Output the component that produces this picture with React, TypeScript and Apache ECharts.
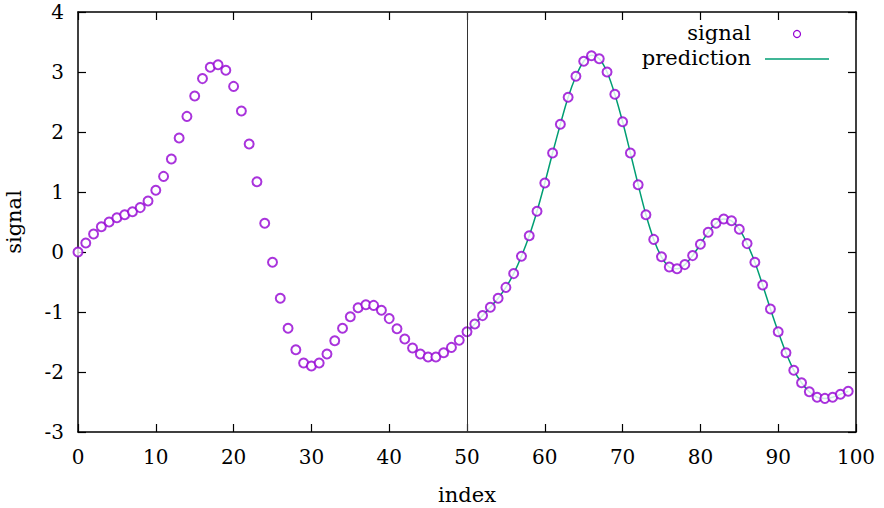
import React, { useEffect, useRef } from "react";
import * as echarts from "echarts";

const signal: number[] = [
  0.0, 0.15, 0.3, 0.42, 0.5, 0.57, 0.62, 0.67, 0.74, 0.85,
  1.03, 1.26, 1.55, 1.9, 2.26, 2.6, 2.89, 3.08, 3.12, 3.03,
  2.76, 2.35, 1.8, 1.17, 0.48, -0.17, -0.77, -1.27, -1.63, -1.85,
  -1.9, -1.85, -1.7, -1.48, -1.27, -1.08, -0.93, -0.88, -0.89, -0.97,
  -1.11, -1.28, -1.45, -1.6, -1.7, -1.75, -1.75, -1.68, -1.59, -1.47,
  -1.33, -1.2, -1.06, -0.92, -0.77, -0.59, -0.36, -0.07, 0.27, 0.68,
  1.15, 1.65, 2.13, 2.58, 2.93, 3.18, 3.27, 3.22, 3.0, 2.63,
  2.17, 1.65, 1.12, 0.62, 0.21, -0.08, -0.25, -0.28, -0.21, -0.06,
  0.13, 0.33, 0.48, 0.55, 0.52, 0.38, 0.14, -0.17, -0.55, -0.95,
  -1.33, -1.68, -1.97, -2.18, -2.33, -2.42, -2.44, -2.42, -2.37, -2.32,
];

const predictionStart = 50;
const prediction: number[] = [
  -1.33, -1.2, -1.06, -0.92, -0.77, -0.59, -0.36, -0.07, 0.27, 0.68,
  1.15, 1.65, 2.13, 2.58, 2.93, 3.18, 3.28, 3.22, 3.0, 2.63,
  2.17, 1.65, 1.12, 0.62, 0.21, -0.08, -0.25, -0.28, -0.21, -0.06,
  0.13, 0.33, 0.48, 0.55, 0.52, 0.38, 0.14, -0.17, -0.55, -0.95,
  -1.33, -1.68, -1.97, -2.18, -2.33, -2.42, -2.44, -2.42, -2.37, -2.32,
];

const xTicks = { min: 0, max: 100, interval: 10 };
const yTicks = { min: -3, max: 4, interval: 1 };
const seriesNames = ["signal", "prediction"];
const axisNames = { x: "index", y: "signal" };
const splitAt = 50;

const FONT = "'DejaVu Serif', 'Liberation Serif', serif";
const FS = 20;
const FS_TEXT = 21;
const PURPLE = "#9400d3";
const GREEN = "#009e73";

export default function App() {
  const ref = useRef<HTMLDivElement>(null);
  useEffect(() => {
    if (!ref.current) return;
    const chart = echarts.init(ref.current, null, { renderer: "svg" });
    const axisLine = { show: true, onZero: false, lineStyle: { color: "#000", width: 1.5 } };
    const tick = { show: true, inside: true, length: 8, lineStyle: { color: "#000", width: 1.2 } };
    const label = { fontFamily: FONT, fontSize: FS, color: "#000" };
    chart.setOption({
      animation: false,
      backgroundColor: "#fff",
      grid: {
        left: 78,
        right: 28,
        top: 12,
        bottom: 76,
        containLabel: false,
        outerBoundsMode: "none",
      },
      xAxis: [
        {
          type: "value",
          ...xTicks,
          position: "bottom",
          name: axisNames.x,
          nameLocation: "middle",
          nameGap: 52,
          nameTextStyle: { fontFamily: FONT, fontSize: FS_TEXT, color: "#000" },
          axisLine,
          axisTick: tick,
          axisLabel: { ...label, margin: 15 },
          splitLine: { show: false },
        },
        {
          type: "value",
          ...xTicks,
          position: "top",
          axisLine,
          axisTick: tick,
          axisLabel: { show: false },
          splitLine: { show: false },
        },
      ],
      yAxis: [
        {
          type: "value",
          ...yTicks,
          position: "left",
          name: axisNames.y,
          nameLocation: "middle",
          nameGap: 54,
          nameRotate: 90,
          nameTextStyle: { fontFamily: FONT, fontSize: FS_TEXT, color: "#000" },
          axisLine,
          axisTick: tick,
          axisLabel: { ...label, margin: 14 },
          splitLine: { show: false },
        },
        {
          type: "value",
          ...yTicks,
          position: "right",
          axisLine,
          axisTick: tick,
          axisLabel: { show: false },
          splitLine: { show: false },
        },
      ],
      series: [
        {
          name: seriesNames[1],
          type: "line",
          data: prediction.map((v, i) => [predictionStart + i, v]),
          showSymbol: false,
          smooth: 0.3,
          lineStyle: { color: GREEN, width: 1.5 },
          z: 2,
        },
        {
          name: seriesNames[0],
          type: "scatter",
          data: signal.map((v, i) => [i, v]),
          symbol: "emptyCircle",
          symbolSize: 9,
          itemStyle: { color: PURPLE, borderColor: PURPLE, borderWidth: 1 },
          z: 3,
          markLine: {
            silent: true,
            symbol: "none",
            label: { show: false },
            lineStyle: { color: "#333", width: 1, type: "solid" },
            data: [{ xAxis: splitAt }],
          },
        },
      ],
      graphic: [
        {
          type: "text",
          right: 884 - 751,
          top: 22,
          style: { text: seriesNames[0], fontFamily: FONT, fontSize: FS_TEXT, fill: "#000" },
        },
        {
          type: "circle",
          shape: { cx: 797, cy: 34, r: 3.5 },
          style: { fill: "none", stroke: PURPLE, lineWidth: 1.2 },
        },
        {
          type: "text",
          right: 884 - 751,
          top: 47,
          style: { text: seriesNames[1], fontFamily: FONT, fontSize: FS_TEXT, fill: "#000" },
        },
        {
          type: "line",
          shape: { x1: 765, y1: 59, x2: 829, y2: 59 },
          style: { stroke: GREEN, lineWidth: 1.5 },
        },
      ],
    });
    return () => chart.dispose();
  }, []);
  return (
    <div
      ref={ref}
      style={{ position: "fixed", left: 0, top: 0, width: 884, height: 508 }}
    />
  );
}
